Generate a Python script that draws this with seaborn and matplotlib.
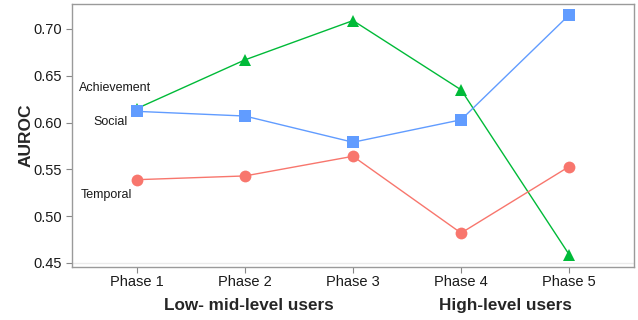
import matplotlib
matplotlib.use("Agg")
import matplotlib.pyplot as plt
import seaborn as sns
import pandas as pd

phases = ["Phase 1", "Phase 2", "Phase 3", "Phase 4", "Phase 5"]
achievement = [0.615, 0.667, 0.709, 0.635, 0.459]
social = [0.612, 0.607, 0.579, 0.603, 0.715]
temporal = [0.539, 0.543, 0.564, 0.482, 0.553]

groups = ["Low- mid-level users", "High-level users"]
group_pos = [1.04, 3.41]

feature_names = ["Achievement", "Social", "Temporal"]
label_pos = [(-0.20, 0.637), (-0.245, 0.6006), (-0.28, 0.5226)]

colors = {"Achievement": "#00BA38", "Social": "#619CFF", "Temporal": "#F8766D"}
markers = {"Achievement": "^", "Social": "s", "Temporal": "o"}

rows = []
for name, vals in zip(feature_names, [achievement, social, temporal]):
    for i, (ph, v) in enumerate(zip(phases, vals)):
        rows.append({"x": i, "phase": ph, "feature": name, "auroc": v})
df = pd.DataFrame(rows)

sns.set_theme(style="white")
plt.rcParams["font.family"] = ["Liberation Sans", "DejaVu Sans"]

fig = plt.figure(figsize=(6.38, 3.2), dpi=100)
ax = fig.add_axes([0.1129, 0.1656, 0.8808, 0.8219])

ax.axhline(0.45, color="#EBEBEB", lw=1.0, zorder=0)

sns.lineplot(data=df, x="x", y="auroc", hue="feature", style="feature",
             palette=colors, markers=markers, dashes=False, sort=False,
             markersize=8.5, markeredgewidth=0, linewidth=1.0,
             legend=False, ax=ax)

for name, (lx, ly) in zip(feature_names, label_pos):
    ax.text(lx, ly, name, ha="center", va="center", fontsize=9, color="#1a1a1a")

ax.set_xlim(-0.6, 4.6)
ax.set_ylim(0.4457, 0.7267)
ax.set_xticks(range(len(phases)))
ax.set_xticklabels(phases)
ax.set_yticks([0.45, 0.50, 0.55, 0.60, 0.65, 0.70])
ax.set_yticklabels(["0.45", "0.50", "0.55", "0.60", "0.65", "0.70"])
ax.tick_params(axis="both", direction="out", length=4, width=0.8,
               color="#888888", labelsize=10.5, labelcolor="#1a1a1a", pad=3,
               bottom=True, left=True)
ax.tick_params(axis="x", pad=2)
ax.set_xlabel("")
ax.set_ylabel("AUROC", fontsize=12.5, fontweight="bold", labelpad=0)

for sp in ax.spines.values():
    sp.set_color("#9a9a9a")
    sp.set_linewidth(1.0)

for g, gx in zip(groups, group_pos):
    ax.text(gx, -0.145, g, transform=ax.get_xaxis_transform(),
            ha="center", va="center", fontsize=12.3, fontweight="bold")

fig.savefig("out.png", dpi=100)
